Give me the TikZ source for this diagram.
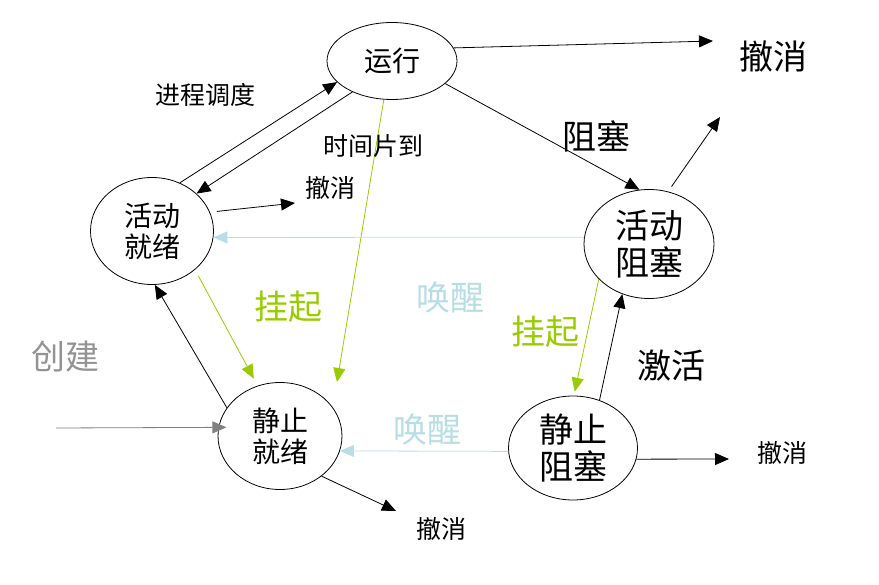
\documentclass[tikz,border=0pt]{standalone}
\usepackage{fontspec}
\setmainfont{Noto Sans CJK SC}
\usepackage{xcolor}
\usepackage{tikz}
\usetikzlibrary{arrows.meta,shapes.geometric}

\definecolor{guaqi}{RGB}{153,204,0}
\definecolor{huanxing}{RGB}{183,221,230}

\begin{document}
\begin{tikzpicture}[x=1pt, y=-1pt,
  proc/.style={draw, ellipse, line width=0.8pt, inner sep=0pt, align=center},
  arr/.style={-{Triangle[length=14pt,width=12pt]}, line width=0.8pt},
  lblS/.style={font=\fontsize{25}{30}\selectfont},
  lblM/.style={font=\fontsize{28}{31}\selectfont},
  lblL/.style={font=\fontsize{34}{37}\selectfont}]
\useasboundingbox (0,0) rectangle (879,585);
% ---- states ----
\node[proc, lblM, minimum width=130pt, minimum height=77pt] (run) at (392,61) {运行};
\node[proc, lblM, minimum width=123pt, minimum height=107pt] (ready) at (152,231) {活动\\就绪};
\node[proc, lblL, minimum width=130pt, minimum height=109pt] (ablock) at (649,244) {活动\\阻塞};
\node[proc, lblM, minimum width=124pt, minimum height=107pt] (sready) at (280,436) {静止\\就绪};
\node[proc, lblL, minimum width=129pt, minimum height=104pt] (sblock) at (573,448) {静止\\阻塞};
% ---- free ends ----
\coordinate (runX) at (713,41);
\coordinate (readyX) at (295,203);
\coordinate (ablockX) at (720,117);
\coordinate (sreadyX) at (396,511);
\coordinate (sblockX) at (729,459);
\coordinate (slice) at (337,382);
\coordinate (born) at (56,428);
% ---- running / ready ----
\draw[arr] (run.12) -- (runX);
\node[lblL] (runXl) at (773,56) {撤消};
\draw[arr] (ready.60) -- (run.201);
\draw[arr] (run.218) -- (ready.40);
\node[lblS] (schedl) at (205,95) {进程调度};
\draw[arr, guaqi] (run.258) -- (slice);
\node[lblS] (slicel) at (373,146) {时间片到};
\draw[arr, shorten <=7pt] (ready.18) -- (readyX);
\node[lblS] (readyXl) at (330,188) {撤消};
% ---- blocking ----
\draw[arr] (run.337) -- (ablock.100);
\node[lblL] (blockl) at (596,136) {阻塞};
\draw[arr, shorten <=6pt] (ablock.70) -- (ablockX);
\draw[arr, huanxing] (ablock.174) -- (ready.354);
\node[lblL, huanxing] (wake1) at (450,298) {唤醒};
% ---- suspend / activate ----
\draw[arr, guaqi, shorten <=7pt, shorten >=8pt] (ready.318) -- (sready.114);
\node[lblL, guaqi] (susp1) at (288,307) {挂起};
\draw[arr] (sready.152) -- (ready.273);
\draw[arr, guaqi, shorten >=4pt] (ablock.215) -- (sblock.89);
\node[lblL, guaqi] (susp2) at (545,332) {挂起};
\draw[arr] (sblock.61) -- (ablock.242);
\node[lblL] (actl) at (671,366) {激活};
% ---- static states ----
\draw[arr, gray, shorten >=-8pt] (born) -- (sready.172);
\node[lblL, gray!85] (bornl) at (65,357) {创建};
\draw[arr, huanxing] (sblock.183) -- (sready.346);
\node[lblL, huanxing] (wake2) at (427,430) {唤醒};
\draw[arr] (sready.316) -- (sreadyX);
\node[lblS] (sreadyXl) at (441,529) {撤消};
\draw[arr] (sblock.350) -- (sblockX);
\node[lblS] (sblockXl) at (782,453) {撤消};
\end{tikzpicture}
\end{document}
